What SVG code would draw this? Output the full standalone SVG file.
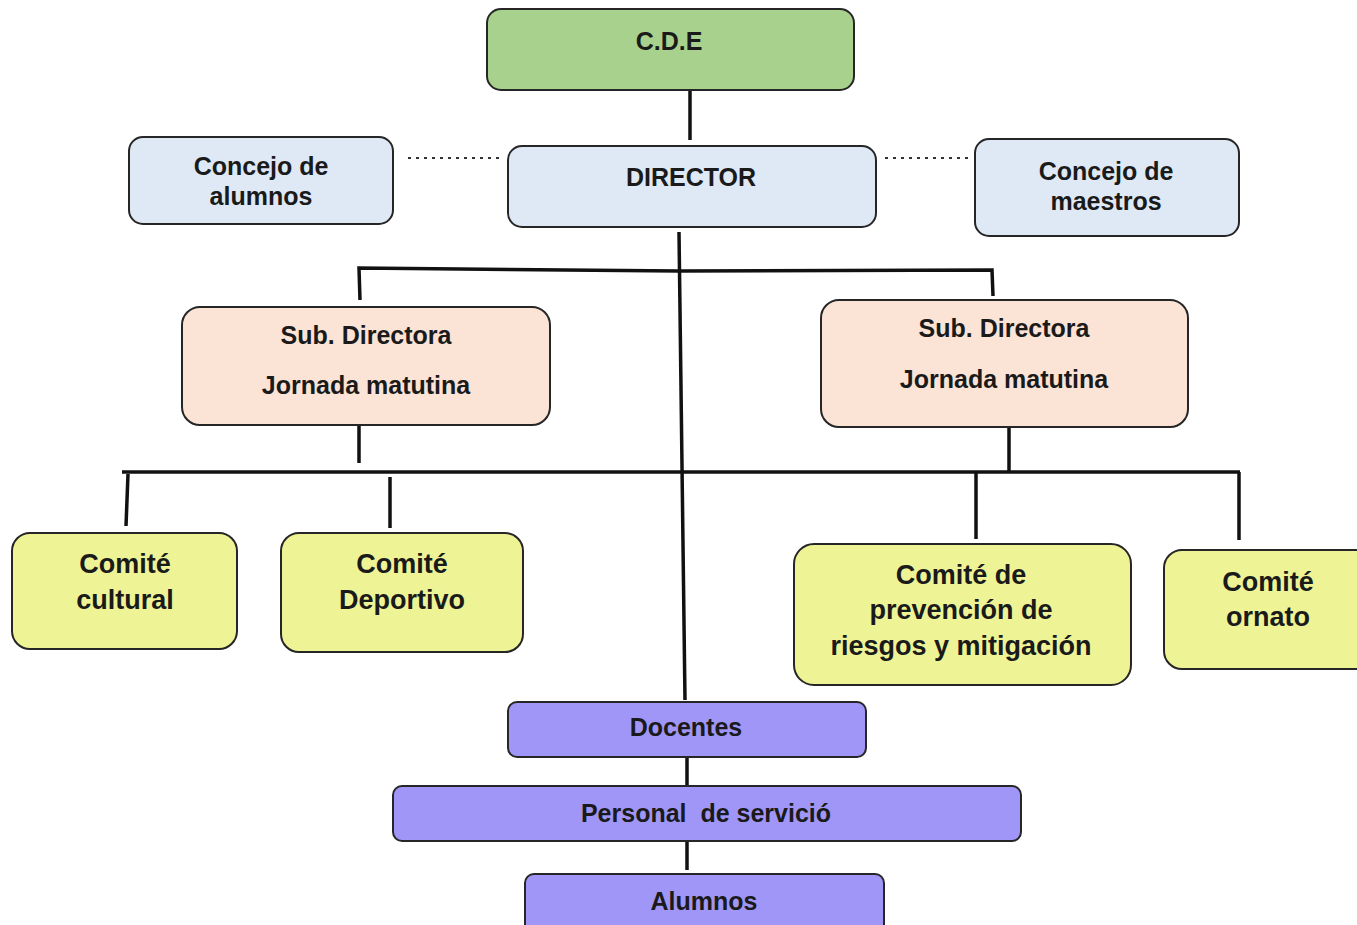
<svg xmlns="http://www.w3.org/2000/svg" width="1357" height="925" viewBox="0 0 1357 925">
<style>
.n{stroke:#262626;stroke-width:2;}
.g{fill:#a9d18e;}
.b{fill:#dee9f5;}
.p{fill:#fbe3d5;}
.y{fill:#eef495;}
.v{fill:#a096f7;}
text{font-family:"Liberation Sans",Arial,sans-serif;font-weight:bold;fill:#1a1a1a;text-anchor:middle;}
.t{font-size:25px;}
.tb{font-size:27px;}
.c line,.c polyline{stroke:#111;stroke-width:3.5;fill:none;}
.c .d{stroke:#333;stroke-width:1.8;stroke-dasharray:3 5;}
</style>
<rect width="1357" height="925" fill="#ffffff"/>
<g class="c" id="connectors">
<line x1="690" y1="90" x2="690" y2="140"/>
<line class="d" x1="408" y1="158" x2="504" y2="158"/>
<line class="d" x1="885" y1="158" x2="973" y2="158"/>
<polyline points="679,232 685,700"/>
<polyline points="360,300 359,268 679,271 992,270 993,296"/>
<line x1="359" y1="425" x2="359" y2="463"/>
<line x1="1009" y1="427" x2="1009" y2="471"/>
<line x1="122" y1="472" x2="1240" y2="472"/>
<line x1="128" y1="474" x2="126" y2="526"/>
<line x1="390" y1="477" x2="390" y2="528"/>
<line x1="976" y1="472" x2="976" y2="539"/>
<line x1="1239" y1="472" x2="1239" y2="540"/>
<line x1="687" y1="757" x2="687" y2="787"/>
<line x1="687" y1="841" x2="687" y2="870"/>
</g>
<g id="cde"><rect class="n g" x="487" y="9" width="367" height="81" rx="14"/><text class="t" x="669" y="50">C.D.E</text></g>
<g id="director"><rect class="n b" x="508" y="146" width="368" height="81" rx="14"/><text class="t" x="691" y="186">DIRECTOR</text></g>
<g id="concejo-alumnos"><rect class="n b" x="129" y="137" width="264" height="87" rx="14"/><text class="t" x="261" y="175">Concejo de</text><text class="t" x="261" y="205">alumnos</text></g>
<g id="concejo-maestros"><rect class="n b" x="975" y="139" width="264" height="97" rx="14"/><text class="t" x="1106" y="180">Concejo de</text><text class="t" x="1106" y="210">maestros</text></g>
<g id="subdir-1"><rect class="n p" x="182" y="307" width="368" height="118" rx="18"/><text class="t" x="366" y="344">Sub. Directora</text><text class="t" x="366" y="394">Jornada matutina</text></g>
<g id="subdir-2"><rect class="n p" x="821" y="300" width="367" height="127" rx="18"/><text class="t" x="1004" y="337">Sub. Directora</text><text class="t" x="1004" y="388">Jornada matutina</text></g>
<g id="comite-cultural"><rect class="n y" x="12" y="533" width="225" height="116" rx="18"/><text class="tb" x="125" y="573">Comité</text><text class="tb" x="125" y="609">cultural</text></g>
<g id="comite-deportivo"><rect class="n y" x="281" y="533" width="242" height="119" rx="18"/><text class="tb" x="402" y="573">Comité</text><text class="tb" x="402" y="609">Deportivo</text></g>
<g id="comite-prevencion"><rect class="n y" x="794" y="544" width="337" height="141" rx="20"/><text class="tb" x="961" y="584">Comité de</text><text class="tb" x="961" y="619">prevención de</text><text class="tb" x="961" y="655">riesgos y mitigación</text></g>
<g id="comite-ornato"><rect class="n y" x="1164" y="550" width="210" height="119" rx="18"/><text class="tb" x="1268" y="591">Comité</text><text class="tb" x="1268" y="626">ornato</text></g>
<g id="docentes"><rect class="n v" x="508" y="702" width="358" height="55" rx="9"/><text class="t" x="686" y="736">Docentes</text></g>
<g id="personal"><rect class="n v" x="393" y="786" width="628" height="55" rx="9"/><text class="t" x="706" y="822" xml:space="preserve" style="white-space:pre">Personal  de servició</text></g>
<g id="alumnos"><rect class="n v" x="525" y="874" width="359" height="70" rx="9"/><text class="t" x="704" y="910">Alumnos</text></g>
</svg>
